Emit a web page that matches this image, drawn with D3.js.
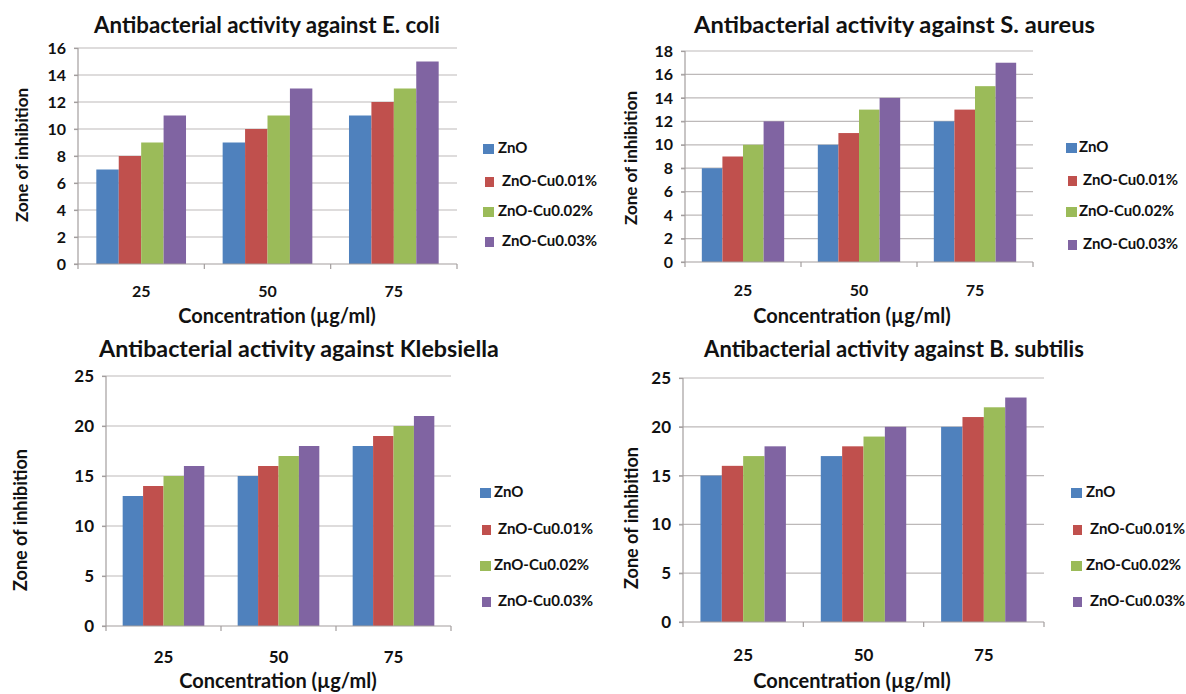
<!DOCTYPE html>
<html>
<head>
<meta charset="utf-8">
<script src="https://cdn.jsdelivr.net/npm/d3@7"></script>
<style>
  body { margin: 0; background: #fff; }
  text { font-family: Lato, "Open Sans", sans-serif; font-weight: 700; fill: #111; }
</style>
</head>
<body>
<div id="chart-area"></div>
<script>
// data
var concentrations = ["25", "50", "75"];
var seriesNames = ["ZnO", "ZnO-Cu0.01%", "ZnO-Cu0.02%", "ZnO-Cu0.03%"];
var colors = ["#4f81bd", "#c0504d", "#9bbb59", "#8064a2"];

// one row per series, one value per concentration
var ecoli      = [[7, 9, 11], [8, 10, 12], [9, 11, 13], [11, 13, 15]];
var saureus    = [[8, 10, 12], [9, 11, 13], [10, 13, 15], [12, 14, 17]];
var klebsiella = [[13, 15, 18], [14, 16, 19], [15, 17, 20], [16, 18, 21]];
var bsubtilis  = [[15, 17, 20], [16, 18, 21], [17, 19, 22], [18, 20, 23]];

var panels = [
  { title: "Antibacterial activity against E. coli", data: ecoli, yMax: 16, yStep: 2,
    left: 78, right: 457, top: 48, bottom: 264, titleSpan: [94, 440], titleY: 27,
    yTitleX: 24, yTitleY: 155, yTitleSize: 17, xTitleX: 277, xTitleY: 318, tickY: 293, tickSize: 16,
    legendX: 483, textX: 498, legendY: [149, 182, 212, 242] },
  { title: "Antibacterial activity against S. aureus", data: saureus, yMax: 18, yStep: 2,
    left: 685, right: 1033, top: 51, bottom: 262, titleSpan: [694, 1095], titleY: 27,
    yTitleX: 633, yTitleY: 158, yTitleSize: 17, xTitleX: 852, xTitleY: 318, tickY: 292, tickSize: 16,
    legendX: 1066, textX: 1079, legendY: [148, 181, 212, 245] },
  { title: "Antibacterial activity against Klebsiella", data: klebsiella, yMax: 25, yStep: 5,
    left: 106, right: 451, top: 376, bottom: 626, titleSpan: [99, 499], titleY: 351,
    yTitleX: 22, yTitleY: 520, yTitleSize: 18, xTitleX: 278, xTitleY: 683, tickY: 659, tickSize: 17,
    legendX: 480, textX: 494, legendY: [493, 530, 566, 602] },
  { title: "Antibacterial activity against B. subtilis", data: bsubtilis, yMax: 25, yStep: 5,
    left: 683, right: 1044, top: 378, bottom: 622, titleSpan: [704, 1084], titleY: 351,
    yTitleX: 633, yTitleY: 518, yTitleSize: 18, xTitleX: 852, xTitleY: 683, tickY: 657, tickSize: 17,
    legendX: 1071, textX: 1086, legendY: [493, 530, 566, 602] }
];

var svg = d3.select("#chart-area")
  .append("svg")
  .attr("width", 1186)
  .attr("height", 694);

panels.forEach(function(p) {
  var g = svg.append("g");

  var x0 = d3.scaleBand()
    .domain(concentrations)
    .range([p.left, p.right]);

  var x1 = d3.scaleBand()
    .domain(seriesNames)
    .range([x0.bandwidth() * 0.145, x0.bandwidth() * 0.855]);

  var y = d3.scaleLinear()
    .domain([0, p.yMax])
    .range([p.bottom, p.top]);

  var yTicks = d3.range(0, p.yMax + 0.001, p.yStep);

  // gridlines
  g.selectAll(".grid")
    .data(yTicks.filter(function(d) { return d > 0; }))
    .enter()
    .append("line")
    .attr("x1", p.left - 4)
    .attr("x2", p.right)
    .attr("y1", function(d) { return y(d); })
    .attr("y2", function(d) { return y(d); })
    .attr("stroke", "#bdb9b9")
    .attr("stroke-width", 1.2);

  // y axis
  var yAxis = g.append("g")
    .attr("transform", "translate(" + p.left + ",0)")
    .call(d3.axisLeft(y).tickValues(yTicks).tickSize(4).tickPadding(8).tickFormat(d3.format("d")));
  yAxis.selectAll("line, path").attr("stroke", "#a39e9e").attr("stroke-width", 1.2);
  yAxis.select(".domain").attr("d", "M0," + p.bottom + "V" + p.top);
  yAxis.selectAll("text").style("font-size", p.tickSize + "px").attr("fill", "#111");

  // bars
  var rows = concentrations.map(function(c, ci) {
    return { conc: c, values: seriesNames.map(function(s, si) {
      return { name: s, color: colors[si], value: p.data[si][ci] };
    }) };
  });

  g.selectAll(".group")
    .data(rows)
    .enter()
    .append("g")
    .attr("transform", function(d) { return "translate(" + x0(d.conc) + ",0)"; })
    .selectAll("rect")
    .data(function(d) { return d.values; })
    .enter()
    .append("rect")
    .attr("x", function(d) { return x1(d.name); })
    .attr("width", x1.bandwidth())
    .attr("y", function(d) { return y(d.value); })
    .attr("height", function(d) { return p.bottom - y(d.value); })
    .attr("fill", function(d) { return d.color; });

  // x axis line and band boundary ticks
  g.append("line")
    .attr("x1", p.left - 4).attr("x2", p.right)
    .attr("y1", p.bottom).attr("y2", p.bottom)
    .attr("stroke", "#a39e9e").attr("stroke-width", 1.2);

  var bounds = concentrations.map(function(c) { return x0(c); }).concat([p.right]);
  g.selectAll(".xtick")
    .data(bounds)
    .enter()
    .append("line")
    .attr("x1", function(d) { return d; })
    .attr("x2", function(d) { return d; })
    .attr("y1", p.bottom)
    .attr("y2", p.bottom + 5)
    .attr("stroke", "#a39e9e").attr("stroke-width", 1.2);

  g.selectAll(".xlabel")
    .data(concentrations)
    .enter()
    .append("text")
    .attr("x", function(d) { return x0(d) + x0.bandwidth() / 2; })
    .attr("y", p.tickY)
    .attr("text-anchor", "middle")
    .attr("dominant-baseline", "middle")
    .style("font-size", p.tickSize + "px")
    .text(function(d) { return d; });

  // chart title, sized to the width it takes in the picture
  var title = g.append("text")
    .attr("x", (p.titleSpan[0] + p.titleSpan[1]) / 2).attr("y", p.titleY)
    .attr("text-anchor", "middle")
    .attr("dominant-baseline", "middle")
    .style("font-size", "22px")
    .text(p.title);
  var w = title.node().getComputedTextLength();
  var fs = Math.max(20, Math.min(25, 22 * (p.titleSpan[1] - p.titleSpan[0]) / w));
  title.style("font-size", fs + "px");

  g.append("text")
    .attr("x", p.xTitleX).attr("y", p.xTitleY)
    .attr("text-anchor", "middle")
    .attr("dominant-baseline", "middle")
    .style("font-size", "20px")
    .text("Concentration (\u00b5g/ml)");

  g.append("text")
    .attr("transform", "translate(" + p.yTitleX + "," + p.yTitleY + ") rotate(-90)")
    .attr("text-anchor", "middle")
    .attr("dominant-baseline", "middle")
    .style("font-size", p.yTitleSize + "px")
    .text("Zone of inhibition");

  // legend
  var legend = g.selectAll(".legend")
    .data(seriesNames)
    .enter()
    .append("g")
    .attr("transform", function(d, i) { return "translate(0," + p.legendY[i] + ")"; });

  legend.append("rect")
    .attr("x", function(d, i) { return p.legendX + (i % 2 ? 2 : 0); })
    .attr("y", -5)
    .attr("width", function(d, i) { return i % 2 ? 9 : 11; })
    .attr("height", 10)
    .attr("fill", function(d, i) { return colors[i]; });

  legend.append("text")
    .attr("x", function(d, i) { return p.textX + (i % 2 ? 4 : 0); })
    .attr("y", 0)
    .attr("dominant-baseline", "middle")
    .style("font-size", "15px")
    .text(function(d) { return d; });
});
</script>
</body>
</html>
